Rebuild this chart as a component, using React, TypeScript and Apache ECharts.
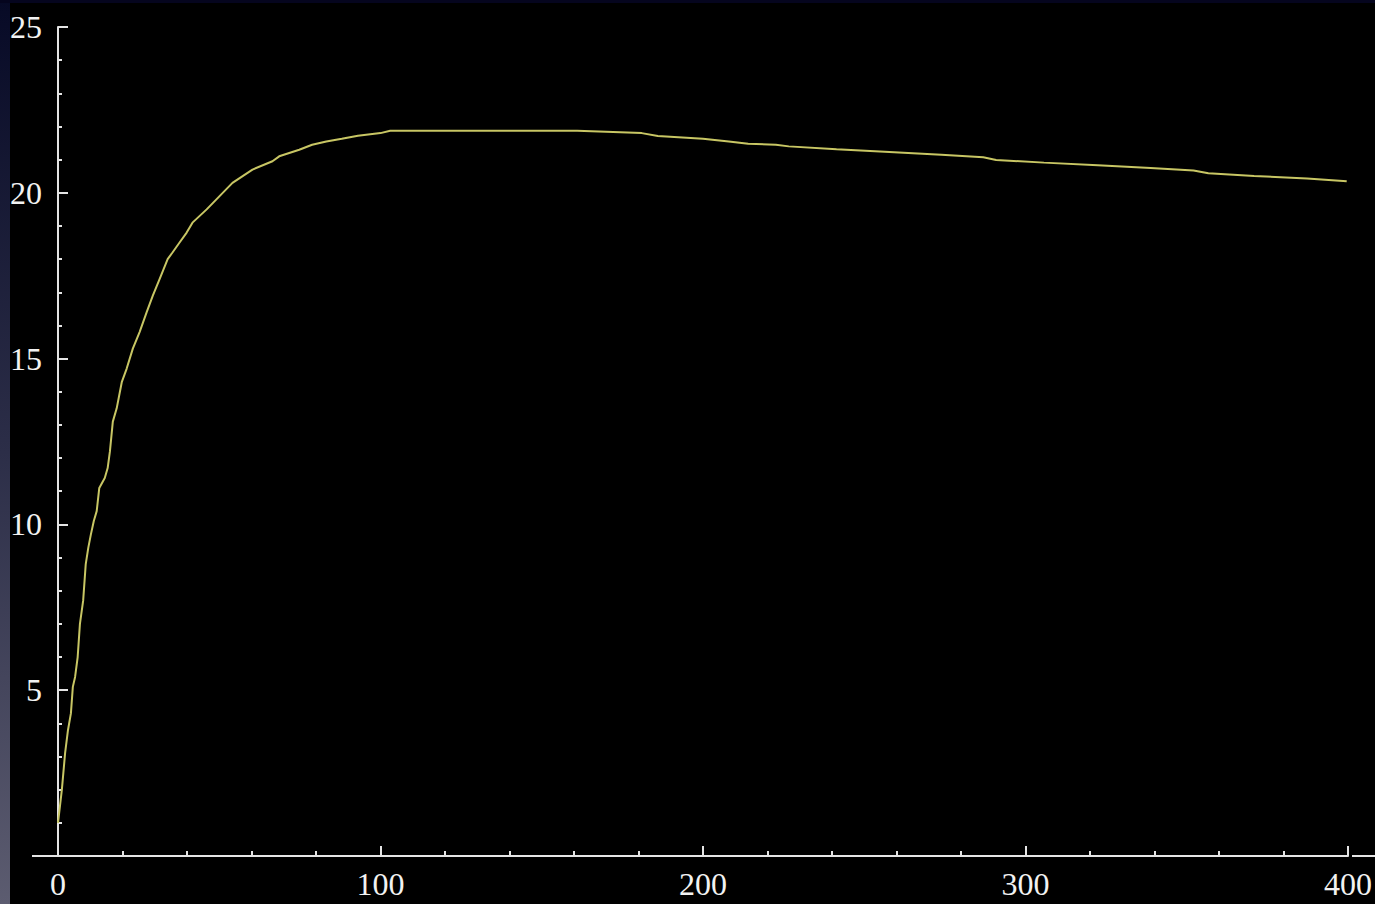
import React, { useEffect, useRef } from "react";
import * as echarts from "echarts";

// Curve samples (x, y)
const xValues = [
  0, 1.2, 2.2, 3.1, 4.0, 4.6, 5.3, 6.1, 6.8, 7.8, 8.6, 9.4, 10.2, 11.1, 12.0, 12.8,
  14.5, 15.4, 16.1, 17.0, 18.2, 19.8, 21.3, 23.2, 25.3, 27.5, 29.4, 31.5, 34.0, 35.5,
  37.7, 39.9, 41.7, 46.1, 50.1, 54.1, 60.3, 66.5, 68.6, 74.8, 78.8, 83.2, 88, 93, 100,
  103, 161, 181, 186, 200, 208, 214, 222.6, 226.6, 241.4, 257.8, 273.9, 286.9, 290.9,
  305.7, 322.4, 338.8, 352.1, 356.7, 370.9, 387.3, 399.6,
];
const yValues = [
  1.0, 2.0, 3.1, 3.8, 4.3, 5.1, 5.4, 6.0, 7.0, 7.7, 8.8, 9.3, 9.7, 10.1, 10.4, 11.1,
  11.4, 11.7, 12.2, 13.1, 13.5, 14.3, 14.7, 15.3, 15.8, 16.4, 16.9, 17.4, 18.0, 18.2,
  18.5, 18.8, 19.1, 19.5, 19.9, 20.3, 20.7, 20.95, 21.1, 21.3, 21.45, 21.55, 21.63, 21.72, 21.8,
  21.87, 21.87, 21.8, 21.71, 21.63, 21.55, 21.48, 21.45, 21.4, 21.31, 21.23, 21.15, 21.07, 20.99,
  20.91, 20.83, 20.75, 20.67, 20.59, 20.51, 20.43, 20.35,
];

// Axis ranges / tick steps
const xMin = 0;
const xMax = 400;
const xStep = 100;
const yMin = 0;
const yMax = 25;
const yStep = 5;

export default function App() {
  const ref = useRef<HTMLDivElement>(null);

  useEffect(() => {
    if (!ref.current) return;
    const chart = echarts.init(ref.current, null, { renderer: "svg" });
    const data = xValues.map((x, i) => [x, yValues[i]]);
    const axisColor = "#e4e4e4";
    const labelStyle = {
      color: "#f2f2f2",
      fontFamily: "'Liberation Serif', 'DejaVu Serif', serif",
      fontSize: 32,
    };
    const gridLeft = 58;
    const gridRight = 23;
    const gridTop = 27;
    const gridBottom = 48;
    chart.setOption({
      animation: false,
      backgroundColor: "#000000",
      grid: { left: gridLeft, right: gridRight, top: gridTop, bottom: gridBottom, containLabel: false },
      xAxis: {
        type: "value",
        min: xMin,
        max: xMax,
        interval: xStep,
        axisLine: { show: true, onZero: false, lineStyle: { color: axisColor, width: 2 } },
        axisTick: { show: true, inside: true, length: 10, lineStyle: { color: axisColor, width: 2 } },
        minorTick: { show: true, splitNumber: 5, length: 5, lineStyle: { color: axisColor, width: 2 } },
        splitLine: { show: false },
        axisLabel: { ...labelStyle, margin: 12 },
      },
      yAxis: {
        type: "value",
        min: yMin,
        max: yMax,
        interval: yStep,
        axisLine: { show: true, onZero: false, lineStyle: { color: axisColor, width: 2 } },
        axisTick: { show: true, inside: true, length: 10, lineStyle: { color: axisColor, width: 2 } },
        minorTick: { show: true, splitNumber: 5, length: 4, lineStyle: { color: axisColor, width: 2 } },
        splitLine: { show: false },
        axisLabel: { ...labelStyle, margin: 16, showMinLabel: false },
      },
      graphic: [
        {
          type: "rect",
          left: 0,
          top: 0,
          shape: { width: 10, height: 904 },
          style: {
            fill: new echarts.graphic.LinearGradient(0, 0, 0, 1, [
              { offset: 0, color: "#070a26" },
              { offset: 0.5, color: "#2c2e48" },
              { offset: 1, color: "#5c5c70" },
            ]),
          },
          silent: true,
        },
        {
          type: "rect",
          left: 0,
          top: 0,
          shape: { width: 1375, height: 3 },
          style: { fill: "#05051e" },
          silent: true,
        },
        {
          type: "line",
          shape: { x1: 32, y1: 856, x2: gridLeft, y2: 856 },
          style: { stroke: axisColor, lineWidth: 2 },
          silent: true,
        },
        {
          type: "line",
          shape: { x1: 1375 - gridRight, y1: 856, x2: 1375, y2: 856 },
          style: { stroke: axisColor, lineWidth: 2 },
          silent: true,
        },
      ],
      series: [
        {
          type: "line",
          data,
          showSymbol: false,
          lineStyle: { color: "#c8c664", width: 2 },
          smooth: false,
        },
      ],
    });
    return () => chart.dispose();
  }, []);

  return (
    <div
      ref={ref}
      style={{ position: "fixed", left: 0, top: 0, width: 1375, height: 904 }}
    />
  );
}
